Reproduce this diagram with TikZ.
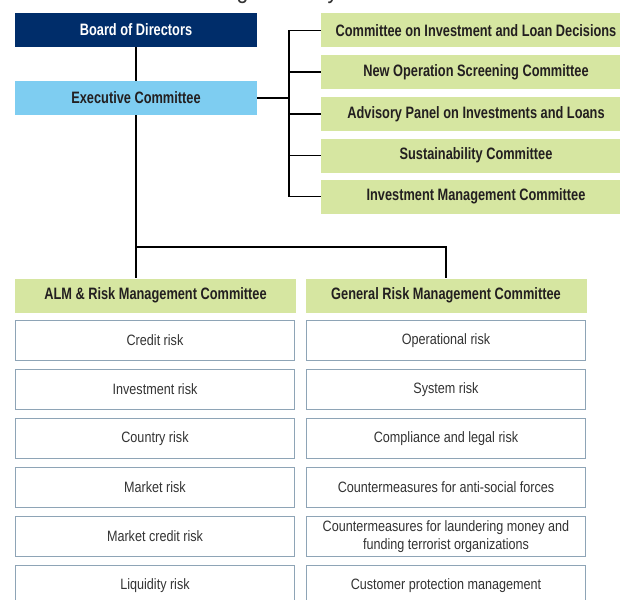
\documentclass[tikz,border=0pt]{standalone}
\usepackage{fontspec}
\newfontfamily\hfont{Liberation Sans}[FakeStretch=0.775]
\newfontfamily\bfont{Liberation Sans}[FakeStretch=0.84]
\newfontfamily\tfont{Liberation Sans}[FakeStretch=0.85]
\definecolor{navy}{HTML}{002D6A}
\definecolor{skyb}{HTML}{7ECDF1}
\definecolor{lgreen}{HTML}{D6E6A1}
\definecolor{bord}{HTML}{8EA4B6}
\definecolor{txt}{HTML}{231F20}
\definecolor{btxt}{HTML}{333333}
\tikzset{
  hbox/.style={inner sep=0pt, minimum height=34pt, text=txt,
    font=\hfont\bfseries\fontsize{16.5}{19}\selectfont},
  navybox/.style={hbox, fill=navy, text=white, minimum width=242pt},
  skybox/.style={hbox, fill=skyb, minimum width=242pt},
  greenbox/.style={hbox, fill=lgreen, minimum width=310pt},
  catbox/.style={hbox, fill=lgreen, minimum width=281pt},
  riskbox/.style={draw=bord, line width=1.6pt, fill=white, inner sep=0pt,
    minimum width=279pt, minimum height=40pt, text=btxt, align=center,
    font=\bfont\fontsize{15}{18}\selectfont},
  conn/.style={line width=1.8pt, black}
}
\begin{document}
\begin{tikzpicture}[x=1pt,y=-1pt]
\useasboundingbox (0,0) rectangle (620,599);
% title, cut off by the top edge as in the reference
\node[anchor=base west, inner sep=0pt, text=black!80,
  font=\tfont\fontsize{25}{30}\selectfont] (title) at (18,-1.5) {Overview of Risk Management System};
% top-left
\node[navybox] (bod) at (136,30) {Board of Directors};
\node[skybox] (ec) at (136,98) {Executive Committee};
% right committees
\node[greenbox] (c1) at (476,30.5) {Committee on Investment and Loan Decisions};
\node[greenbox] (c2) at (476,72) {New Operation Screening Committee};
\node[greenbox] (c3) at (476,114) {Advisory Panel on Investments and Loans};
\node[greenbox] (c4) at (476,155.5) {Sustainability Committee};
\node[greenbox] (c5) at (476,196.5) {Investment Management Committee};
% category headers
\node[catbox] (alm) at (155.5,295.5) {ALM \& Risk Management Committee};
\node[catbox] (grm) at (446,295.5) {General Risk Management Committee};
% risk boxes
\node[riskbox] (l1) at (155,340.5) {Credit risk};
\node[riskbox] (l2) at (155,389.5) {Investment risk};
\node[riskbox] (l3) at (155,438.5) {Country risk};
\node[riskbox] (l4) at (155,487.5) {Market risk};
\node[riskbox] (l5) at (155,536.5) {Market credit risk};
\node[riskbox] (l6) at (155,585.5) {Liquidity risk};
\node[riskbox] (r1) at (446,340.5) {Operational risk};
\node[riskbox] (r2) at (446,389.5) {System risk};
\node[riskbox] (r3) at (446,438.5) {Compliance and legal risk};
\node[riskbox] (r4) at (446,487.5) {Countermeasures for anti-social forces};
\node[riskbox] (r5) at (446,536.5) {Countermeasures for laundering money and\\funding terrorist organizations};
\node[riskbox] (r6) at (446,585.5) {Customer protection management};
% connectors
\coordinate (bx) at (289,98);
\coordinate (j1) at (136,247);
\draw[conn] (bod.south) -- (ec.north);
\draw[conn] (ec.south) -- (j1) -- (j1 |- alm.north);
\draw[conn] (j1) -| (grm.north);
\draw[conn] (ec.east) -- (bx);
\draw[conn] (c1.west -| bx) -- (c5.west -| bx);
\foreach \c in {c1,c2,c3,c4,c5}{
  \draw[conn] (\c.west -| bx) -- (\c.west);
}
\end{tikzpicture}
\end{document}
